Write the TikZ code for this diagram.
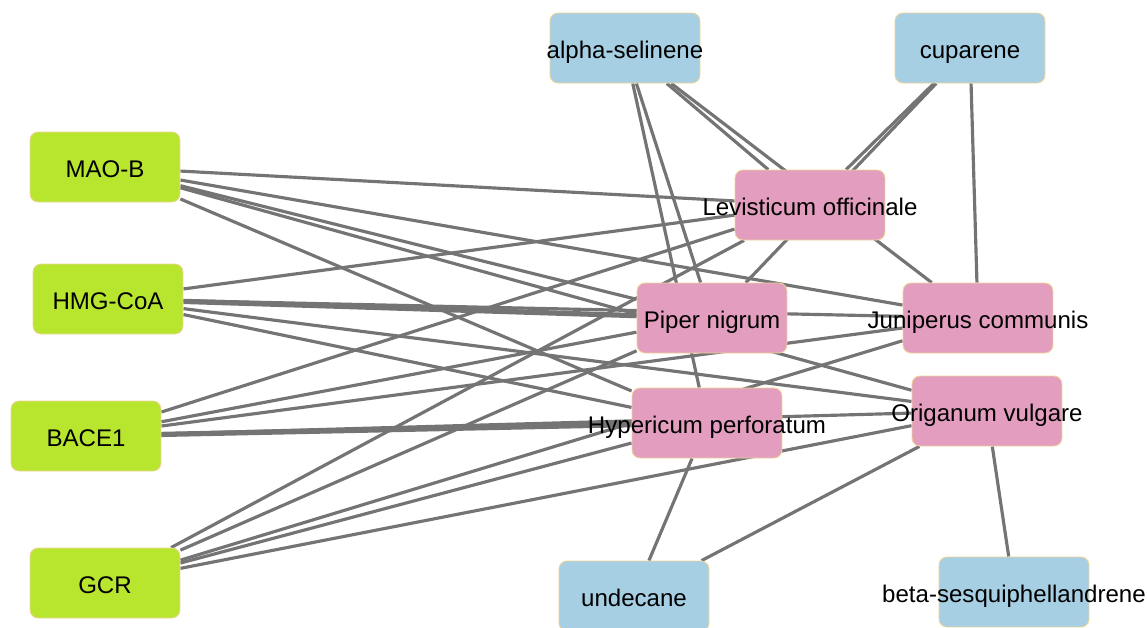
\documentclass[tikz,border=0pt]{standalone}
\usepackage{fontspec}
\setmainfont{Liberation Sans}
\usetikzlibrary{backgrounds}
\definecolor{targetgreen}{HTML}{B8E62E}
\definecolor{herbpink}{HTML}{E39DBE}
\definecolor{compblue}{HTML}{A6CFE3}
\definecolor{boxedge}{HTML}{EED49A}
\definecolor{linkgray}{HTML}{747474}

\begin{document}
\begin{tikzpicture}[x=0.02cm,y=-0.02cm,
    box/.style={rounded corners=0.16cm,draw=boxedge,line width=0.5pt,
      minimum width=3cm,minimum height=1.4cm,inner sep=0pt,
      text height=12.5pt,text depth=1pt,
      font=\fontsize{13.7}{16}\selectfont},
    target/.style={box,fill=targetgreen},
    herb/.style={box,fill=herbpink},
    compound/.style={box,fill=compblue},
    edgeline/.style={draw=linkgray,line width=1.8pt},
    heavyline/.style={edgeline,line width=3pt}]
	\clip (0,0) rectangle (1147,627);
	% targets
	\node[target] (mao) at (105,167) {\makebox[0pt]{MAO-B}};
	\node[target] (hmg) at (108,299) {\makebox[0pt]{HMG-CoA}};
	\node[target] (bace) at (86,436) {\makebox[0pt]{BACE1}};
	\node[target] (gcr) at (105,583) {\makebox[0pt]{GCR}};
	% herbs
	\node[herb] (lev) at (810,205) {\makebox[0pt]{Levisticum officinale}};
	\node[herb] (pip) at (712,318) {\makebox[0pt]{Piper nigrum}};
	\node[herb] (jun) at (978,318) {\makebox[0pt]{Juniperus communis}};
	\node[herb] (hyp) at (707,423) {\makebox[0pt]{Hypericum perforatum}};
	\node[herb] (ori) at (987,411) {\makebox[0pt]{Origanum vulgare}};
	% compounds
	\node[compound] (sel) at (625,48) {\makebox[0pt]{alpha-selinene}};
	\node[compound] (cup) at (970,48) {\makebox[0pt]{cuparene}};
	\node[compound] (und) at (634,596) {\makebox[0pt]{undecane}};
	\node[compound] (ses) at (1014,592) {\makebox[0pt]{beta-sesquiphellandrene}};
	\begin{pgfonlayer}{background}
		\foreach \t in {mao,hmg,bace,gcr}
			\foreach \h in {lev,pip,jun,hyp,ori}
				\draw[edgeline] (\t) -- (\h);
		\draw[heavyline] (hmg) -- (pip);
		\draw[heavyline] (bace) -- (hyp);
		\foreach \h in {lev,jun,pip,hyp}
			\draw[edgeline] (sel) -- (\h);
		\foreach \h in {lev,pip,jun}
			\draw[edgeline] (cup) -- (\h);
		\draw[edgeline] (und) -- (hyp);
		\draw[edgeline] (und) -- (ori);
		\draw[edgeline] (ses) -- (ori);
	\end{pgfonlayer}
\end{tikzpicture}
\end{document}
